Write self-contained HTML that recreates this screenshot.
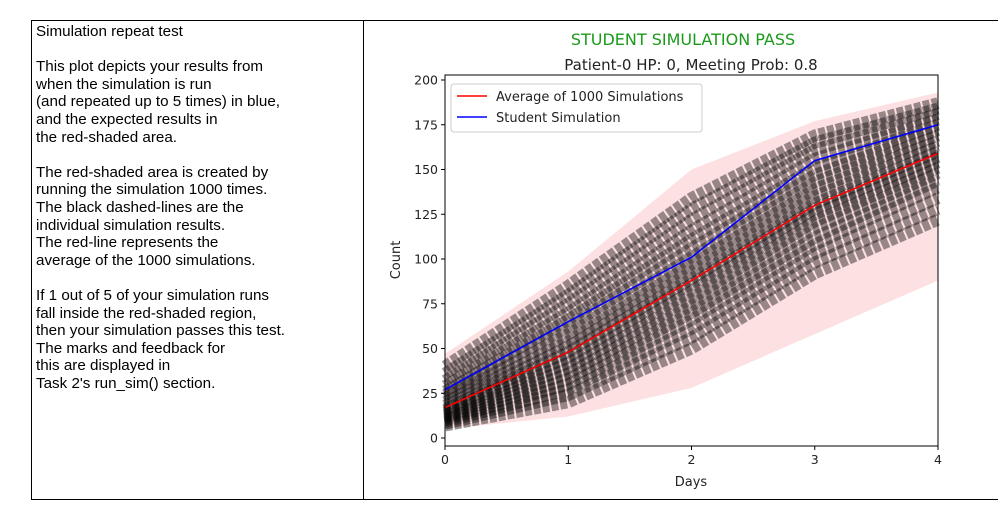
<!DOCTYPE html>
<html><head><meta charset="utf-8"><style>
body{margin:0;background:#fff;width:998px;height:532px;overflow:hidden;font-family:"Liberation Sans",sans-serif}
#tbl{position:absolute;left:31px;top:20px;width:980px;height:478px;border:1px solid #000;border-right:none}
#txt{position:absolute;left:0;top:0;width:332px;height:478px;border-right:1px solid #000;font-size:15.2px;line-height:17.6px;padding:2px 4px;box-sizing:border-box;color:#000}
svg{position:absolute;left:0;top:0}
</style></head><body>
<div id="tbl">
<div id="txt">Simulation repeat test<br><br>This plot depicts your results from<br>when the simulation is run<br>(and repeated up to 5 times) in blue,<br>and the expected results in<br>the red-shaded area.<br><br>The red-shaded area is created by<br>running the simulation 1000 times.<br>The black dashed-lines are the<br>individual simulation results.<br>The red-line represents the<br>average of the 1000 simulations.<br><br>If 1 out of 5 of your simulation runs<br>fall inside the red-shaded region,<br>then your simulation passes this test.<br>The marks and feedback for<br>this are displayed in<br>Task 2's run_sim() section.</div>
</div>
<svg id="chart" width="998" height="532" font-family="DejaVu Sans, sans-serif"></svg>
<script>
const days=[0,1,2,3,4];
const yTicks=[0,25,50,75,100,125,150,175,200];
const avgSeries=[17,48,88,130,159];
const studentSeries=[27,65,101,155,175];
const bandLow=[5,12,28,58,88];
const bandHigh=[47,93,150,177,193];
const simLines=[
[7,20,50,92,122],[8,24,56,98,128],[9,27,61,103,134],[10,30,66,108,140],[11,33,70,112,144],
[12,36,74,117,148],[13,39,78,121,151],[14,42,82,125,154],[15,45,86,128,157],[16,48,89,131,160],
[18,51,93,135,163],[20,54,97,139,166],[22,58,101,143,169],[24,62,106,147,172],[26,66,111,151,175],
[29,70,116,156,178],[32,75,122,161,181],[36,80,128,165,184],[40,85,134,169,187]];
const X=d=>445+d*(938-445)/4;
const Y=v=>438-v*(438-80)/200;
const svg=document.getElementById('chart');
const NS='http://www.w3.org/2000/svg';
function mk(t,a,p){const e=document.createElementNS(NS,t);for(const k in a)e.setAttribute(k,a[k]);(p||svg).appendChild(e);return e;}
function pts(arr){return arr.map((v,i)=>X(days[i])+','+Y(v)).join(' ');}
const band=mk('polygon',{points:pts(bandHigh)+' '+bandLow.map((v,i)=>X(days[i])+','+Y(v)).reverse().join(' '),fill:'#fde0e1'});


simLines.forEach((s,i)=>{
 const l=mk('polyline',{points:pts(s),fill:'none',stroke:'#000','stroke-opacity':0.4,'stroke-width':12,'stroke-dasharray':'7,2'});
 
 
});
const avg=mk('polyline',{points:pts(avgSeries),fill:'none',stroke:'#f00','stroke-width':1.6});


const stu=mk('polyline',{points:pts(studentSeries),fill:'none',stroke:'#00f','stroke-width':1.6});


const frame=mk('rect',{x:445,y:75,width:493,height:371,fill:'none',stroke:'#000','stroke-width':1});


yTicks.forEach(v=>{
 mk('line',{x1:441,x2:445,y1:Y(v),y2:Y(v),stroke:'#000'});
 const t=mk('text',{x:438,y:Y(v)+4.5,'text-anchor':'end','font-size':12.5,fill:'#222'});t.textContent=v;
 
 
});
days.forEach(d=>{
 mk('line',{x1:X(d),x2:X(d),y1:446,y2:450,stroke:'#000'});
 const t=mk('text',{x:X(d),y:464,'text-anchor':'middle','font-size':12.5,fill:'#222'});t.textContent=d;
 
 
});
function txt(s,a,n){const t=mk('text',a);t.textContent=s;return t;}
txt('Days',{x:691,y:486,'text-anchor':'middle','font-size':13,fill:'#222'},'x-axis-title');
txt('Count',{x:0,y:0,transform:'translate(400,260) rotate(-90)','text-anchor':'middle','font-size':13,fill:'#222'},'y-axis-title');
txt('STUDENT SIMULATION PASS',{x:683,y:45,'text-anchor':'middle','font-size':16,fill:'#1a9a1a'},'chart-title');
txt('Patient-0 HP: 0, Meeting Prob: 0.8',{x:691,y:70,'text-anchor':'middle','font-size':15,fill:'#222'},'chart-subtitle');
const lg=mk('rect',{x:451,y:84,width:251,height:48,rx:3,fill:'#fff','fill-opacity':0.85,stroke:'#ccc'});


mk('line',{x1:457,x2:487,y1:96,y2:96,stroke:'#f00','stroke-width':1.6});
txt('Average of 1000 Simulations',{x:496,y:101,'font-size':13,fill:'#222'},'legend-entry-average');
mk('line',{x1:457,x2:487,y1:117,y2:117,stroke:'#00f','stroke-width':1.6});
txt('Student Simulation',{x:496,y:122,'font-size':13,fill:'#222'},'legend-entry-student');
</script>
</body></html>
